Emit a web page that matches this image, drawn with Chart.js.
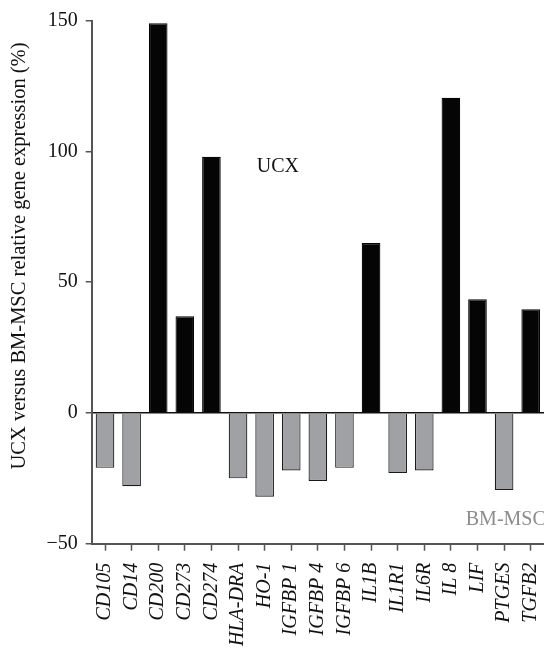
<!DOCTYPE html>
<html>
<head>
<meta charset="utf-8">
<script src="https://cdn.jsdelivr.net/npm/chart.js@4.4.1/dist/chart.umd.min.js"></script>
<style>
  html,body{margin:0;padding:0;background:#fff;}
  #wrap{width:544px;height:656px;position:relative;}
</style>
</head>
<body>
<div id="wrap"><canvas id="chart" width="544" height="656"></canvas></div>
<script>
const genes = ['CD105','CD14','CD200','CD273','CD274','HLA-DRA','HO-1','IGFBP 1','IGFBP 4','IGFBP 6','IL1B','IL1R1','IL6R','IL 8','LIF','PTGES','TGFB2'];
const expression = [-21, -28, 149, 37, 98, -25, -32, -22, -26, -21, 65, -23, -22, 120.5, 43.5, -29.5, 39.7];
const yTicks = [-50, 0, 50, 100, 150];
const yTitle = 'UCX versus BM-MSC relative gene expression (%)';

const SERIF = '"Liberation Serif", "DejaVu Serif", serif';

// text labels drawn in data space
const notes = [
  {text:'UCX', x:6.5, y:94, color:'#111', align:'center'},
  {text:'BM-MSC', x:13.56, y:-40.7, color:'#8c8c8c', align:'left'}
];

const textPlugin = {
  id:'texts',
  afterDraw(chart){
    const {ctx, scales:{x, y}} = chart;
    ctx.save();
    ctx.font = '20px ' + SERIF;
    ctx.textBaseline = 'middle';
    notes.forEach(n=>{
      ctx.fillStyle = n.color;
      ctx.textAlign = n.align;
      ctx.fillText(n.text, x.getPixelForValue(n.x), y.getPixelForValue(n.y));
    });
    // y axis title
    ctx.font = '20.5px ' + SERIF;
    ctx.translate(20, 256);
    ctx.rotate(-Math.PI/2);
    ctx.textAlign = 'center';
    ctx.fillStyle = '#111';
    ctx.fillText(yTitle, 0, 0);
    ctx.restore();
  }
};

new Chart(document.getElementById('chart'), {
  type:'bar',
  data:{
    labels: genes,
    datasets:[{
      data: expression,
      backgroundColor: expression.map(v=> v>=0 ? '#050505' : '#a0a1a4'),
      borderColor: expression.map(v=> v>=0 ? '#050505' : '#1a1a1a'),
      borderWidth: 1.2,
      categoryPercentage: 1,
      barPercentage: 0.7
    }]
  },
  options:{
    responsive:false,
    animation:false,
    devicePixelRatio:1,
    layout:{padding:{top:20.7, right:0, left:0, bottom:0}},
    plugins:{legend:{display:false}, tooltip:{enabled:false}},
    scales:{
      x:{
        afterFit(s){ s.height = 112.3; s.paddingLeft = 0; s.paddingRight = 0; },
        border:{display:true, color:'#555', width:2},
        grid:{drawOnChartArea:false, offset:false, tickLength:7, tickColor:'#555', tickWidth:1.5},
        ticks:{minRotation:90, maxRotation:90, autoSkip:false, padding:12, color:'#111',
          font:{family:SERIF, size:20, style:'italic'}}
      },
      y:{
        min:-50, max:150,
        afterFit(s){ s.width = 91.7; },
        afterBuildTicks(s){ s.ticks = yTicks.map(v=>({value:v})); },
        border:{display:true, color:'#555', width:2},
        grid:{
          color: c => (c.tick && c.tick.value===0) ? '#111' : 'rgba(0,0,0,0)',
          lineWidth: 1.5,
          tickLength:6, tickColor:'#555', tickWidth:1.5
        },
        ticks:{padding:8, color:'#111', font:{family:SERIF, size:20},
          callback: v => String(v).replace('-', '\u2212')}
      }
    }
  },
  plugins:[textPlugin]
});
</script>
</body>
</html>
